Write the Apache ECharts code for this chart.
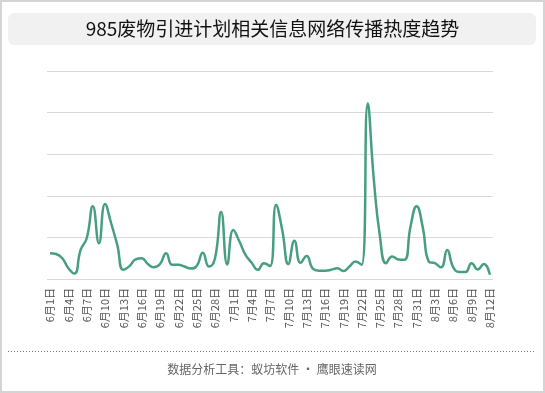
<!DOCTYPE html>
<html><head><meta charset="utf-8">
<script src="https://cdn.jsdelivr.net/npm/echarts@6/dist/echarts.min.js"></script>
<style>html,body{margin:0;padding:0;background:#fff}#c{width:545px;height:393px}</style>
</head><body><div id="c"></div>
<script>
const titleText = '985废物引进计划相关信息网络传播热度趋势';
const footerText = '数据分析工具：蚁坊软件 · 鹰眼速读网';
const categories = [
 '6月1日','6月2日','6月3日','6月4日','6月5日','6月6日','6月7日','6月8日','6月9日','6月10日',
 '6月11日','6月12日','6月13日','6月14日','6月15日','6月16日','6月17日','6月18日','6月19日','6月20日',
 '6月21日','6月22日','6月23日','6月24日','6月25日','6月26日','6月27日','6月28日','6月29日','6月30日',
 '7月1日','7月2日','7月3日','7月4日','7月5日','7月6日','7月7日','7月8日','7月9日','7月10日',
 '7月11日','7月12日','7月13日','7月14日','7月15日','7月16日','7月17日','7月18日','7月19日','7月20日',
 '7月21日','7月22日','7月23日','7月24日','7月25日','7月26日','7月27日','7月28日','7月29日','7月30日',
 '7月31日','8月1日','8月2日','8月3日','8月4日','8月5日','8月6日','8月7日','8月8日','8月9日',
 '8月10日','8月11日','8月12日'
];
const heat = [
 62,60,50,26,13,70,98,175,86,180,
 134,82,22,31,47,50,36,28,36,62,
 34,34,30,25,31,63,30,50,161,35,
 118,90,58,39,22,38,31,178,118,36,
 92,39,55,25,20,20,22,26,19,30,
 42,34,422,238,102,38,54,47,46,126,
 175,125,42,38,28,70,28,17,17,38,
 23,36,10
];
const chart = echarts.init(document.getElementById('c'), null, {renderer:'canvas'});
chart.setOption({
  animation:false,
  grid:{left:47,right:52,top:71,bottom:114},
  xAxis:{type:'category',data:categories,boundaryGap:true,
    axisLine:{show:false},axisTick:{show:false},
    axisLabel:{interval:2,rotate:90,fontSize:11,color:'#555',margin:9,fontFamily:'Noto Sans CJK SC'}},
  yAxis:{type:'value',min:0,max:500,interval:100,
    axisLabel:{show:false},axisLine:{show:false},axisTick:{show:false},
    splitLine:{lineStyle:{color:'#d9d9d9',width:1}}},
  series:[{type:'line',data:heat,smooth:true,symbol:'none',
    lineStyle:{color:'#479e80',width:2.5}}],
  graphic:[
    {type:'rect',shape:{x:1,y:1,width:543,height:391},style:{fill:'none',stroke:'#d4d4d4',lineWidth:2},z:-10},
    {type:'rect',shape:{x:8,y:13,width:528,height:32,r:6},style:{fill:'#f1f1f1'},z:-5},
    {type:'text',x:272.5,y:29,style:{text:titleText,fill:'#111',font:'19px "Noto Sans CJK SC"',textAlign:'center',textVerticalAlign:'middle'}},
    {type:'line',shape:{x1:8,y1:351.5,x2:536,y2:351.5},style:{stroke:'#777',lineWidth:1,lineDash:[1,2]}},
    {type:'text',x:272,y:369.5,style:{text:footerText,fill:'#666',font:'12px "Noto Sans CJK SC"',textAlign:'center',textVerticalAlign:'middle'}}
  ]
});
</script></body></html>
